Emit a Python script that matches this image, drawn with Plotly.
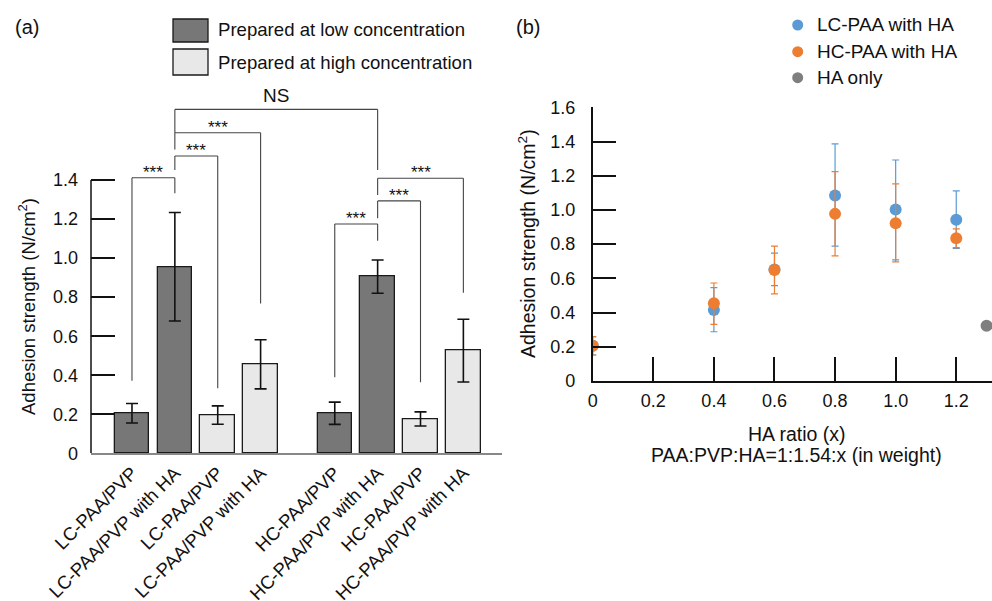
import plotly.graph_objects as go

W, H = 992, 601
FONT = "Liberation Sans, Arial, sans-serif"

# ---------------- Panel (a) data ----------------
bar_labels = ["LC-PAA/PVP", "LC-PAA/PVP with HA", "LC-PAA/PVP", "LC-PAA/PVP with HA",
              "HC-PAA/PVP", "HC-PAA/PVP with HA", "HC-PAA/PVP", "HC-PAA/PVP with HA"]
bar_prep = ["low", "low", "high", "high", "low", "low", "high", "high"]
bar_values = [0.205, 0.956, 0.196, 0.456, 0.205, 0.905, 0.176, 0.526]
bar_errors = [0.050, 0.278, 0.047, 0.126, 0.057, 0.085, 0.036, 0.161]
y_ticks_a = [0, 0.2, 0.4, 0.6, 0.8, 1.0, 1.2, 1.4]
y_ticktext_a = ["0", "0.2", "0.4", "0.6", "0.8", "1.0", "1.2", "1.4"]

# significance comparisons: (bar i, bar j, label, bracket level, leg end at i, leg end at j)
comparisons = [
    (0, 1, "***", 1.412, 0.372, 1.332),
    (1, 2, "***", 1.523, 1.451, 0.333),
    (1, 3, "***", 1.642, 1.557, 0.768),
    (1, 5, "NS", 1.762, 1.642, 1.451),
    (4, 5, "***", 1.175, 0.389, 1.089),
    (5, 6, "***", 1.293, 1.204, 0.364),
    (5, 7, "***", 1.409, 1.323, 0.823),
]

# ---------------- Panel (b) data ----------------
ha_ratio = [0, 0.4, 0.6, 0.8, 1.0, 1.2]
lc_mean = [0.206, 0.415, 0.652, 1.084, 1.002, 0.943]
lc_err_plus = [0.053, 0.131, 0.095, 0.302, 0.290, 0.168]
lc_err_minus = [0.054, 0.127, 0.095, 0.295, 0.294, 0.168]
hc_mean = [0.206, 0.454, 0.649, 0.977, 0.922, 0.834]
hc_err_plus = [0.053, 0.119, 0.140, 0.247, 0.230, 0.055]
hc_err_minus = [0.054, 0.123, 0.140, 0.246, 0.226, 0.054]
ha_only_x = [1.30]
ha_only_y = [0.323]
x_ticks_b = [0, 0.2, 0.4, 0.6, 0.8, 1.0, 1.2]
x_ticktext_b = ["0", "0.2", "0.4", "0.6", "0.8", "1.0", "1.2"]
y_ticks_b = [0, 0.2, 0.4, 0.6, 0.8, 1.0, 1.2, 1.4, 1.6]
y_ticktext_b = ["0", "0.2", "0.4", "0.6", "0.8", "1.0", "1.2", "1.4", "1.6"]
series_names = ["LC-PAA with HA", "HC-PAA with HA", "HA only"]

# ---------------- styles / layout helpers ----------------
DARK = "#777777"
LIGHT = "#E8E8E8"
BLUE = "#5B9BD5"
ORANGE = "#ED7D31"
GRAY = "#7F7F7F"
TXT = "#111111"
GROUP_GAP = 0.73


def px_x(p):
    return p / W


def px_y(p):
    return 1 - p / H


positions = [i + GROUP_GAP * (i // 4) for i in range(len(bar_labels))]
colors = [DARK if p == "low" else LIGHT for p in bar_prep]

fig = go.Figure()

fig.add_trace(go.Bar(
    x=positions, y=bar_values, width=0.805,
    marker=dict(color=colors, line=dict(color="#1a1a1a", width=1.3)),
    error_y=dict(type="data", array=bar_errors, color="#111111", thickness=1.6, width=6),
    showlegend=False, xaxis="x", yaxis="y",
))

eb = dict(thickness=1.2, width=3.5)
fig.add_trace(go.Scatter(
    x=ha_ratio, y=lc_mean, mode="markers", name=series_names[0],
    marker=dict(color=BLUE, size=12),
    error_y=dict(type="data", symmetric=False, array=lc_err_plus, arrayminus=lc_err_minus,
                 color=BLUE, **eb),
    showlegend=False, xaxis="x2", yaxis="y2",
))
fig.add_trace(go.Scatter(
    x=ha_ratio, y=hc_mean, mode="markers", name=series_names[1],
    marker=dict(color=ORANGE, size=12),
    error_y=dict(type="data", symmetric=False, array=hc_err_plus, arrayminus=hc_err_minus,
                 color=ORANGE, **eb),
    showlegend=False, xaxis="x2", yaxis="y2",
))
fig.add_trace(go.Scatter(
    x=ha_only_x, y=ha_only_y, mode="markers", name=series_names[2],
    marker=dict(color=GRAY, size=12),
    showlegend=False, xaxis="x2", yaxis="y2",
))

shapes = []
annotations = []


def text_at(x, y, text, size, xanchor="center", yanchor="middle", **kw):
    annotations.append(dict(x=px_x(x), y=px_y(y), xref="paper", yref="paper", text=text,
                            showarrow=False, xanchor=xanchor, yanchor=yanchor,
                            font=dict(size=size, family=FONT, color=TXT), **kw))


# y-axis line of panel (a) only up to 1.4
shapes.append(dict(type="line", xref="x domain", yref="y", x0=0, x1=0, y0=0, y1=y_ticks_a[-1],
                   line=dict(color="#111111", width=1.5), layer="above"))

# significance brackets
BR = dict(color="#444444", width=1.1)
for i, j, lab, lvl, end_i, end_j in comparisons:
    xi, xj = positions[i], positions[j]
    shapes.append(dict(type="line", xref="x", yref="y", x0=xi, x1=xj, y0=lvl, y1=lvl, line=BR))
    shapes.append(dict(type="line", xref="x", yref="y", x0=xi, x1=xi, y0=lvl, y1=end_i, line=BR))
    shapes.append(dict(type="line", xref="x", yref="y", x0=xj, x1=xj, y0=lvl, y1=end_j, line=BR))
    if lab == "NS":
        annotations.append(dict(x=(xi + xj) / 2, y=lvl, xref="x", yref="y", text=lab,
                                showarrow=False, xanchor="center", yanchor="bottom", yshift=1,
                                font=dict(size=19, family=FONT, color=TXT)))
    else:
        annotations.append(dict(x=(xi + xj) / 2, y=lvl, xref="x", yref="y", text=lab,
                                showarrow=False, xanchor="center", yanchor="bottom", yshift=-6,
                                font=dict(size=17, family=FONT, color=TXT)))

# legend (a)
legend_a = [("Prepared at low concentration", DARK, 19, 42, 30),
            ("Prepared at high concentration", LIGHT, 49, 75, 62)]
for text, col, y0, y1, yt in legend_a:
    shapes.append(dict(type="rect", xref="paper", yref="paper",
                       x0=px_x(173), x1=px_x(208), y0=px_y(y1), y1=px_y(y0),
                       fillcolor=col, line=dict(color="#1a1a1a", width=1.3)))
    text_at(216, yt, text, 18.6, xanchor="left")

# legend (b)
legend_b = [(series_names[0], BLUE, 25), (series_names[1], ORANGE, 51.7), (series_names[2], GRAY, 77.7)]
for text, col, yc in legend_b:
    r = 5.5
    shapes.append(dict(type="circle", xref="paper", yref="paper",
                       x0=px_x(797.7 - r), x1=px_x(797.7 + r), y0=px_y(yc + r), y1=px_y(yc - r),
                       fillcolor=col, line=dict(width=0)))
    text_at(815, yc, text, 19, xanchor="left")

# panel labels and titles
text_at(27, 27, "(a)", 20)
text_at(528, 27, "(b)", 20)
text_at(27, 307, "Adhesion strength (N/cm<sup>2</sup>)", 18.5, textangle=-90)
text_at(527, 244, "Adhesion strength (N/cm<sup>2</sup>)", 19.5, textangle=-90)
text_at(796.7, 434, "HA ratio (x)", 19.5)
text_at(796.7, 455, "PAA:PVP:HA=1:1.54:x (in weight)", 19.5)

tickfont = dict(size=18, family=FONT, color=TXT)
fig.update_layout(
    width=W, height=H,
    margin=dict(l=0, r=0, t=0, b=0, autoexpand=False),
    paper_bgcolor="white", plot_bgcolor="rgba(0,0,0,0)",
    showlegend=False, bargap=0,
    xaxis=dict(domain=[px_x(91), px_x(502)], range=[-0.956, 8.631],
               tickvals=positions, ticktext=bar_labels, tickangle=-45,
               showline=True, linecolor="#888888", linewidth=1.5, ticks="",
               showgrid=False, zeroline=False,
               tickfont=dict(size=18.5, family=FONT, color=TXT), anchor="y"),
    yaxis=dict(domain=[px_y(453.3), px_y(92.2)], range=[0, 1.85],
               tickvals=y_ticks_a, ticktext=y_ticktext_a,
               ticks="inside", ticklen=24, tickwidth=1.5, tickcolor="#111111",
               showline=False, showgrid=False, zeroline=False, tickfont=tickfont,
               ticklabelstandoff=12, anchor="x"),
    xaxis2=dict(domain=[px_x(592.7), 1.0], range=[0, 1.318],
                tickvals=x_ticks_b, ticktext=x_ticktext_b,
                ticks="inside", ticklen=24, tickwidth=1.5, tickcolor="#111111",
                showline=True, linecolor="#111111", linewidth=1.5,
                showgrid=False, zeroline=False, tickfont=tickfont,
                ticklabelstandoff=3, anchor="y2"),
    yaxis2=dict(domain=[px_y(381), px_y(107.3)], range=[0, 1.6],
                tickvals=y_ticks_b, ticktext=y_ticktext_b,
                ticks="inside", ticklen=24, tickwidth=1.5, tickcolor="#111111",
                showline=True, linecolor="#111111", linewidth=1.5,
                showgrid=False, zeroline=False, tickfont=tickfont,
                ticklabelstandoff=12, anchor="x2"),
    shapes=shapes, annotations=annotations,
)

fig.write_html("out.html")
